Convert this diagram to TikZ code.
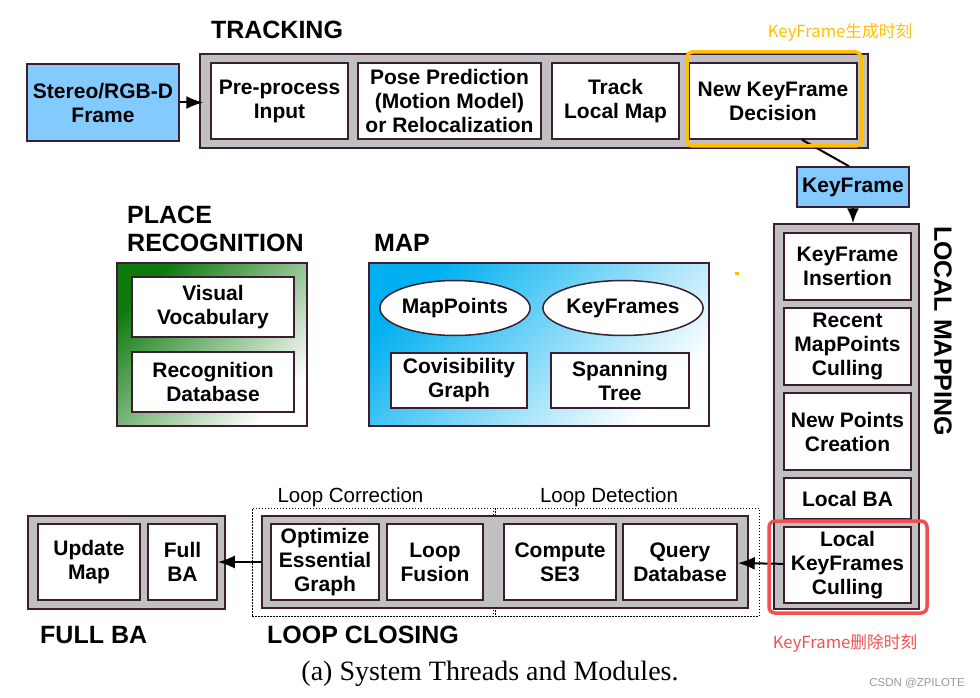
\documentclass[tikz,border=0pt]{standalone}
\usepackage{fontspec}
\setmainfont{Liberation Serif}
\newfontfamily\boxfont{Liberation Sans}
\newfontfamily\cjkfont{Noto Sans CJK SC}
\usepackage{tikz}
\usetikzlibrary{%
  shapes.geometric,%
  calc,%
  arrows.meta%
}

\definecolor{edge}{RGB}{60,30,50}
\definecolor{threadgrey}{RGB}{192,192,192}
\definecolor{framebl}{RGB}{131,202,255}
\definecolor{mapbl}{RGB}{0,176,240}
\definecolor{recgreen}{RGB}{14,122,14}
\definecolor{kfyellow}{RGB}{255,192,0}
\definecolor{kfred}{RGB}{240,80,80}

\tikzset{
  thread/.style={draw=edge,fill=threadgrey,line width=1.5pt,inner sep=0pt},
  module/.style={draw=edge,fill=white,line width=1.5pt,inner sep=0pt,align=center,
    font=\boxfont\bfseries\fontsize{21}{24}\selectfont},
  title/.style={font=\boxfont\bfseries\fontsize{25}{28}\selectfont,align=left,inner sep=0pt},
  subtitle/.style={font=\boxfont\fontsize{20.5}{24}\selectfont,inner sep=0pt},
  groupbox/.style={draw=black,line width=1pt,dash pattern=on 1.5pt off 1.5pt,inner sep=0pt},
  note/.style={font=\cjkfont\fontsize{16.7}{18}\selectfont,inner sep=0pt},
  flow/.style={draw=black,line width=2pt,-{Latex[length=17pt,width=13pt]}}
}

\begin{document}
\begin{tikzpicture}[x=1pt,y=-1pt]
\useasboundingbox (0,0) rectangle (980,698);

\node[title] (tracktitle) at (277,30) {TRACKING};
\node[thread,minimum width=668,minimum height=94] (tracking) at (534,101) {};
\node[module,fill=framebl,minimum width=152,minimum height=77] (frame) at (103,102.5) {Stereo/RGB-D\\Frame};
\node[module,minimum width=137,minimum height=76] (preproc) at (279.5,101) {Pre-process\\Input};
\node[module,minimum width=183,minimum height=76] (posepred) at (449.5,101) {Pose Prediction\\(Motion Model)\\or Relocalization};
\node[module,minimum width=127,minimum height=76] (trackmap) at (615.5,101) {Track\\Local Map};
\node[module,minimum width=168,minimum height=76] (newkf) at (773,101) {New KeyFrame\\Decision};
\node[module,fill=framebl,minimum width=112,minimum height=40] (keyframe) at (853,187) {KeyFrame};
%
\node[thread,minimum width=145,minimum height=385] (localmapping) at (846.5,416.5) {};
\node[title,rotate=-90] (lmtitle) at (943,331) {LOCAL MAPPING};
\node[module,minimum width=127,minimum height=67] (kfinsert) at (847.5,266.5) {KeyFrame\\Insertion};
\node[module,minimum width=127,minimum height=77] (mpculling) at (847.5,346.5) {Recent\\MapPoints\\Culling};
\node[module,minimum width=127,minimum height=77] (newpoints) at (847.5,431.5) {New Points\\Creation};
\node[module,minimum width=127,minimum height=41] (localba) at (847.5,498.5) {Local BA};
\node[module,minimum width=127,minimum height=76] (kfculling) at (847.5,565) {Local\\KeyFrames\\Culling};
%
\node[title,anchor=west] (prtitle) at (127,229) {PLACE\\RECOGNITION};
\node[draw=edge,line width=1.5pt,minimum width=190,minimum height=163,
  top color=recgreen,middle color=recgreen!55!white,bottom color=white,shading angle=45] (placerec) at (212,344.5) {};
\node[module,minimum width=162,minimum height=60] (vocab) at (213,307) {Visual\\Vocabulary};
\node[module,minimum width=162,minimum height=60] (recdb) at (213,382) {Recognition\\Database};
%
\node[title,anchor=west] (maptitle) at (374,243) {MAP};
\node[draw=edge,line width=1.5pt,minimum width=340,minimum height=163,
  top color=mapbl,middle color=mapbl!50!white,bottom color=white,shading angle=45] (map) at (539,344.5) {};
\node[module,ellipse,minimum width=147,minimum height=55] (mappoints) at (455,308) {MapPoints};
\node[module,ellipse,minimum width=147,minimum height=55] (keyframes) at (623,308) {KeyFrames};
\node[module,minimum width=136,minimum height=55] (covis) at (459,380.5) {Covisibility\\Graph};
\node[module,minimum width=138,minimum height=55] (spantree) at (620,380.5) {Spanning\\Tree};
\fill[kfyellow] (735,272) rectangle (739,275);
%
\node[groupbox,minimum width=241,minimum height=108,
  label={[subtitle,yshift=1pt,xshift=-22pt]above:Loop Correction}] (loopcorr) at (372.5,562) {};
\node[groupbox,minimum width=264,minimum height=108,
  label={[subtitle,yshift=1pt,xshift=-18pt]above:Loop Detection}] (loopdet) at (627,562) {};
\node[thread,minimum width=486,minimum height=92] (loopclosing) at (505,562) {};
\node[module,minimum width=108,minimum height=76] (optess) at (325,562) {Optimize\\Essential\\Graph};
\node[module,minimum width=96,minimum height=76] (loopfusion) at (435,562) {Loop\\Fusion};
\node[module,minimum width=112,minimum height=76] (computese) at (560,562) {Compute\\SE3};
\node[module,minimum width=114,minimum height=76] (querydb) at (680,562) {Query\\Database};
\node[title,anchor=west] (lctitle) at (267,635) {LOOP CLOSING};
%
\node[thread,minimum width=197,minimum height=93] (fullbathread) at (126.5,562.5) {};
\node[module,minimum width=102,minimum height=76] (updatemap) at (89,562) {Update\\Map};
\node[module,minimum width=69,minimum height=76] (fullba) at (182.5,562) {Full\\BA};
\node[title,anchor=west] (fbtitle) at (40,635) {FULL BA};
%
\draw[flow] (frame) -- ([xshift=4pt]frame -| tracking.west);
\draw[draw=black,line width=2pt] ([xshift=29pt]newkf.south) -- ([xshift=-4pt]keyframe.north);
\draw[flow,-{Latex[length=15pt,width=12pt]}] (keyframe) -- (keyframe |- localmapping.north);
\draw[flow] (kfculling) -- (querydb);
\draw[flow] (loopclosing) -- (fullba);
%
\draw[kfyellow,line width=3.5pt,rounded corners=5pt] (687,52) rectangle (861,146);
\draw[kfred,line width=3.5pt,rounded corners=6pt] (769,521) rectangle (927,613);
\node[note,text=kfyellow] (kfborn) at (840,32) {KeyFrame生成时刻};
\node[note,text=kfred] (kfdead) at (845,643) {KeyFrame删除时刻};
%
\node[font=\fontsize{28}{30}\selectfont,inner sep=0pt] (caption) at (490,674) {(a) System Threads and Modules.};
\node[font=\boxfont\fontsize{11.5}{13}\selectfont,text=black!40,inner sep=0pt] (mark) at (917,683) {CSDN @ZPILOTE};
\end{tikzpicture}
\end{document}
